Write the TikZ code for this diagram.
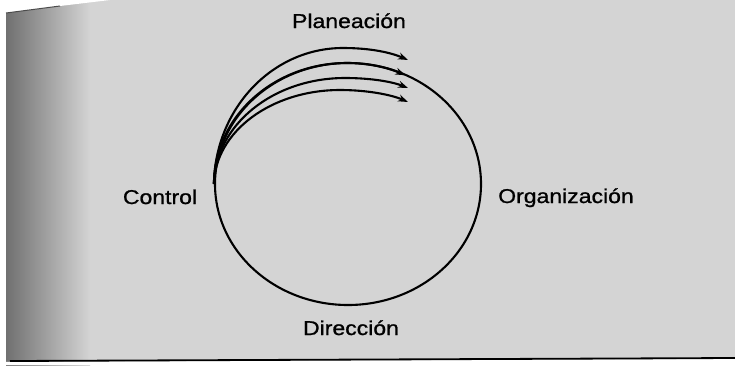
\documentclass[tikz,border=0pt]{standalone}
\usepackage{fontspec}
\setmainfont[FakeStretch=1.15,FakeBold=1]{Liberation Sans}
\usetikzlibrary{arrows.meta,shapes.geometric}
\definecolor{paper}{HTML}{D4D4D4}
\definecolor{shadow}{HTML}{707070}
\begin{document}
\begin{tikzpicture}[x=1pt,y=-1pt,
  lbl/.style={font=\fontsize{20}{22}\selectfont, inner sep=0pt, anchor=base},
  ring/.style={draw, ellipse, line width=2.1pt, inner sep=0pt},
  cycarrow/.style={line width=2.1pt, -{Stealth[length=10pt,width=7pt]}}]
\useasboundingbox (0,0) rectangle (735,365);
% paper background
\fill[paper] (0,0) rectangle (735,365);
\shade[left color=shadow, right color=paper] (6,0) rectangle (90,365);
\fill[white] (0,0) rectangle (6,365);
\fill[white] (0,0) -- (110,0) -- (60,6) -- (6,13) -- (0,13) -- cycle;
\draw[line width=1pt, black!70] (6,13) -- (60,6);
\fill[white] (0,362) -- (735,359) -- (735,365) -- (0,365) -- cycle;
\draw[line width=1.8pt] (10,361) -- (735,358);
% cycle
\node[ring, minimum width=266pt, minimum height=242pt] (cyc) at (348,184) {};
\coordinate (h1) at (408,60);
\coordinate (h3) at (408,88);
\coordinate (h4) at (408,102);
\draw[cycarrow] (cyc.west) .. controls (215,109) and (272,48) .. (343,48)
  .. controls (372,48) and (392,53) .. (h1);
\draw[cycarrow] (cyc.west) arc[start angle=180, end angle=296, x radius=133, y radius=121];
\draw[cycarrow] (cyc.west) .. controls (215,125) and (273,78) .. (345,78)
  .. controls (372,78) and (393,82) .. (h3);
\draw[cycarrow] (cyc.west) .. controls (215,132) and (271,90) .. (340,90)
  .. controls (368,90) and (392,95) .. (h4);
% labels
\node[lbl] (plan) at (349,28) {Planeación};
\node[lbl] (org) at (566,203) {Organización};
\node[lbl] (dir) at (351,335) {Dirección};
\node[lbl] (ctl) at (160,204) {Control};
\end{tikzpicture}
\end{document}
